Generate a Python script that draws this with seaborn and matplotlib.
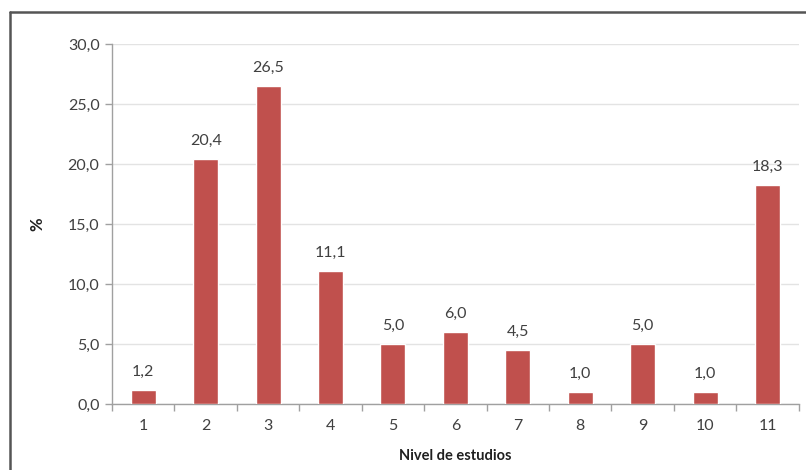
import pandas as pd
import seaborn as sns
import matplotlib.pyplot as plt
from matplotlib.lines import Line2D

# datos
niveles = [str(i) for i in range(1, 12)]
porcentajes = [1.2, 20.4, 26.5, 11.1, 5.0, 6.0, 4.5, 1.0, 5.0, 1.0, 18.3]
yticks = [0, 5, 10, 15, 20, 25, 30]

df = pd.DataFrame({'Nivel': niveles, 'Pct': porcentajes})

sns.set_theme(style='white')
plt.rcParams['font.family'] = ['Lato', 'DejaVu Sans']

fig = plt.figure(figsize=(8.06, 4.70), dpi=100)
ax = fig.add_axes([0.139, 0.1404, 0.852, 0.7656])

sns.barplot(data=df, x='Nivel', y='Pct', color='#C0504D', width=0.4,
            saturation=1, ax=ax, zorder=3)

ax.set_ylim(0, 30)
ax.set_xlim(-0.5, 10.5)
ax.set_yticks(yticks)
ax.set_yticklabels([f'{v:.1f}'.replace('.', ',') for v in yticks], fontsize=11.5, color='#404040')
ax.grid(axis='y', color='#E3E3E3', linewidth=1, zorder=0)
ax.set_axisbelow(True)

# ticks entre categorias
ax.set_xticks(range(len(niveles)))
ax.set_xticklabels(niveles, fontsize=11.5, color='#404040')
ax.set_xticks([i - 0.5 for i in range(len(niveles) + 1)], minor=True)
ax.tick_params(axis='x', which='major', length=0, pad=11)
ax.tick_params(axis='x', which='minor', length=5, color='#A0A0A0', width=1, direction='out', bottom=True)
ax.tick_params(axis='y', length=5, color='#A0A0A0', width=1, direction='out', left=True, pad=4)

for s in ['top', 'right']:
    ax.spines[s].set_visible(False)
for s in ['left', 'bottom']:
    ax.spines[s].set_color('#A0A0A0')
    ax.spines[s].set_linewidth(1)

for p, v in zip(ax.patches, porcentajes):
    ax.annotate(f'{v:.1f}'.replace('.', ','), (p.get_x() + p.get_width() / 2, p.get_height()),
                ha='center', va='bottom', xytext=(0, 8), textcoords='offset points',
                fontsize=11.5, color='#404040')

ax.set_xlabel('Nivel de estudios', fontsize=10.5, fontweight='bold', color='#202020', labelpad=11)
ax.set_ylabel('%', fontsize=12, fontweight='bold', color='#202020', labelpad=16)

# marco del grafico (solo arriba e izquierda visibles)
fig.add_artist(Line2D([10 / 806, 1.0], [1 - 12 / 470, 1 - 12 / 470], transform=fig.transFigure,
                      color='#555555', linewidth=1.8))
fig.add_artist(Line2D([10 / 806, 10 / 806], [0, 1 - 12 / 470], transform=fig.transFigure,
                      color='#555555', linewidth=1.8))

fig.savefig('out.png', dpi=100)
